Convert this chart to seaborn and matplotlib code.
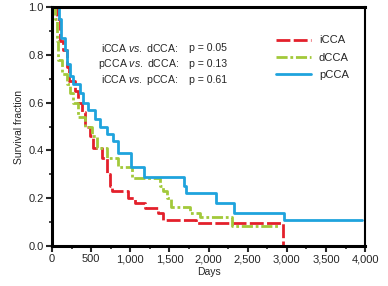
import numpy as np
import pandas as pd
import matplotlib
matplotlib.use("Agg")
import matplotlib.pyplot as plt
import seaborn as sns
from matplotlib.ticker import MultipleLocator, FuncFormatter

# Kaplan-Meier steps (days, survival fraction)
icca_days = [0, 65, 100, 140, 190, 220, 295, 330, 385, 420, 485, 525, 640, 700, 740, 765,
             970, 1060, 1190, 1360, 1420, 1840, 2950, 2950]
icca_surv = [1.0, 0.95, 0.86, 0.82, 0.75, 0.69, 0.65, 0.60, 0.56, 0.50, 0.46, 0.41, 0.37, 0.30,
             0.25, 0.23, 0.20, 0.18, 0.16, 0.14, 0.11, 0.096, 0.096, 0.0]

dcca_days = [0, 40, 65, 80, 130, 190, 230, 270, 330, 420, 510, 575, 700, 840, 1020, 1380,
             1420, 1470, 1520, 1760, 1890, 2300, 2900]
dcca_surv = [1.0, 0.95, 0.86, 0.78, 0.72, 0.68, 0.64, 0.60, 0.54, 0.50, 0.46, 0.41, 0.37, 0.33,
             0.285, 0.25, 0.23, 0.20, 0.165, 0.14, 0.12, 0.085, 0.085]

pcca_days = [0, 90, 115, 165, 190, 230, 270, 360, 395, 460, 550, 615, 700, 780, 840, 1010,
             1175, 1680, 1710, 2090, 2320, 2960, 3960]
pcca_surv = [1.0, 0.95, 0.87, 0.82, 0.76, 0.71, 0.68, 0.64, 0.60, 0.57, 0.53, 0.50, 0.47, 0.44,
             0.39, 0.33, 0.29, 0.25, 0.22, 0.18, 0.14, 0.11, 0.11]

groups = ["iCCA", "dCCA", "pCCA"]
comparisons = [r"iCCA $\it{vs.}$ dCCA:", r"pCCA $\it{vs.}$ dCCA:", r"iCCA $\it{vs.}$ pCCA:"]
p_values = ["p = 0.05", "p = 0.13", "p = 0.61"]

df = pd.concat([
    pd.DataFrame({"Days": icca_days, "Survival": icca_surv, "group": "iCCA"}),
    pd.DataFrame({"Days": dcca_days, "Survival": dcca_surv, "group": "dCCA"}),
    pd.DataFrame({"Days": pcca_days, "Survival": pcca_surv, "group": "pCCA"}),
], ignore_index=True)

sns.set_style("white")
plt.rcParams["font.family"] = ["Liberation Sans Narrow", "Liberation Sans", "DejaVu Sans"]
plt.rcParams["mathtext.fontset"] = "custom"
plt.rcParams["mathtext.it"] = "Liberation Sans:italic"
plt.rcParams["mathtext.rm"] = "Liberation Sans"

palette = {"iCCA": "#E3202B", "dCCA": "#A2C93A", "pCCA": "#1FA3DD"}
dashes = {"iCCA": (5, 1.2), "dCCA": (4, 1, 1, 1), "pCCA": ""}

fig = plt.figure(figsize=(3.88, 2.86), dpi=100)
ax = fig.add_axes([0.134, 0.14, 0.807, 0.835])

sns.lineplot(data=df, x="Days", y="Survival", hue="group", style="group",
             hue_order=groups, style_order=groups, palette=palette, dashes=dashes,
             estimator=None, sort=False, drawstyle="steps-post", linewidth=2, ax=ax)

ax.set_xlim(0, 4000)
ax.set_ylim(0, 1.0)
ax.xaxis.set_major_locator(MultipleLocator(500))
ax.xaxis.set_minor_locator(MultipleLocator(250))
ax.yaxis.set_major_locator(MultipleLocator(0.2))
ax.yaxis.set_minor_locator(MultipleLocator(0.1))
ax.xaxis.set_major_formatter(FuncFormatter(lambda v, p: f"{int(v):,}"))
ax.yaxis.set_major_formatter(FuncFormatter(lambda v, p: f"{v:.1f}"))
ax.tick_params(which="major", direction="out", length=4, width=1.5, labelsize=8, pad=2,
               bottom=True, left=True)
ax.tick_params(which="minor", direction="out", length=2.5, width=1.2, bottom=True, left=True)

for side in ["left", "bottom", "top"]:
    ax.spines[side].set_linewidth(2.2)
ax.spines["right"].set_linewidth(1.5)
for s in ax.spines.values():
    s.set_color("black")

ax.set_xlabel("Days", fontsize=7.5, labelpad=2)
ax.set_ylabel("Survival fraction", fontsize=7.5, labelpad=3)

# log-rank p-values
for i, (c, p) in enumerate(zip(comparisons, p_values)):
    y = 0.83 - i * 0.067
    ax.text(0.405, y, c, transform=ax.transAxes, ha="right", va="center", fontsize=7.6)
    ax.text(0.438, y, p, transform=ax.transAxes, ha="left", va="center", fontsize=7.6)

leg = ax.legend(frameon=False, loc="upper left", bbox_to_anchor=(0.70, 0.9),
                fontsize=8, handlelength=3.2, handletextpad=0.7, labelspacing=0.65,
                borderaxespad=0)

fig.savefig("out.png", dpi=100)
